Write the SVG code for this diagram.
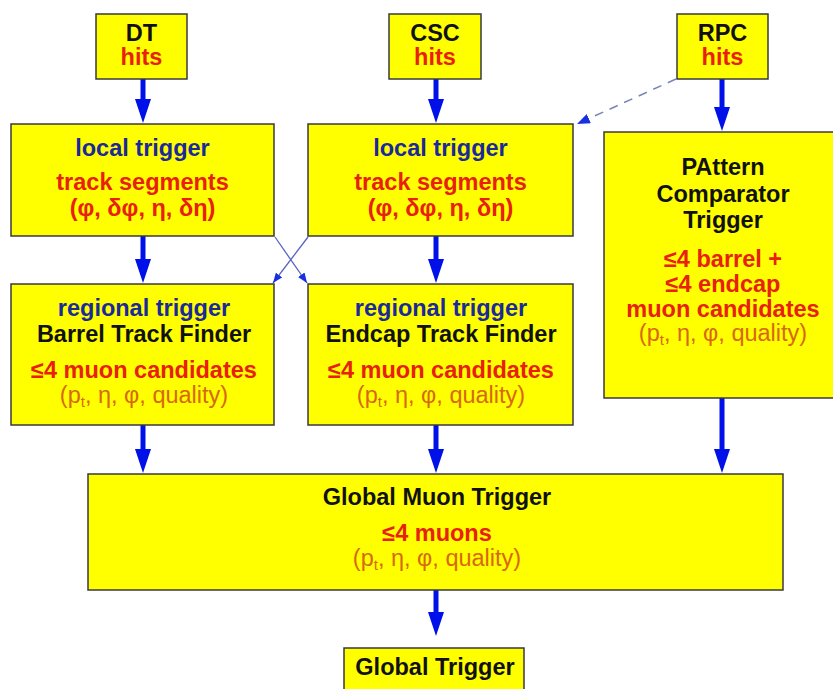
<svg xmlns="http://www.w3.org/2000/svg" width="833" height="689" viewBox="0 0 833 689">
<style>
.box{fill:#ffff00;stroke:#3a3a3a;stroke-width:1.5}
text{font-family:"Liberation Sans",Arial,sans-serif;font-size:23.5px;text-anchor:middle}
.b{font-weight:bold}
.k{fill:#111111}
.r{fill:#e8200c}
.bl{fill:#1a2a9a}
.o{fill:#d8680f;font-weight:normal}
.big{stroke:#0010e8;stroke-width:5;fill:none}
.thin{stroke:#5565c0;stroke-width:1.3;fill:none}
.dash{stroke:#7a86b8;stroke-width:1.6;fill:none;stroke-dasharray:9 7}
</style>
<defs>
<marker id="ah" viewBox="0 0 24 16" refX="1" refY="8" markerWidth="24" markerHeight="16" markerUnits="userSpaceOnUse" orient="auto">
<path d="M0,0 L24,8 L0,16 z" fill="#0010e8"/>
</marker>
<marker id="sh" viewBox="0 0 10 8" refX="10" refY="4" markerWidth="10" markerHeight="8" markerUnits="userSpaceOnUse" orient="auto">
<path d="M0,0 L10,4 L0,8 z" fill="#1a30e0"/>
</marker>
<marker id="dh" viewBox="0 0 13 10" refX="13" refY="5" markerWidth="13" markerHeight="10" markerUnits="userSpaceOnUse" orient="auto">
<path d="M0,0 L13,5 L0,10 z" fill="#1a30e0"/>
</marker>
</defs>

<g id="connectors">
<line class="big" x1="143" y1="79" x2="143" y2="100" marker-end="url(#ah)"/>
<line class="big" x1="436" y1="79" x2="436" y2="100" marker-end="url(#ah)"/>
<line class="big" x1="722" y1="79" x2="722" y2="108" marker-end="url(#ah)"/>
<line class="big" x1="143" y1="236" x2="143" y2="260" marker-end="url(#ah)"/>
<line class="big" x1="436" y1="236" x2="436" y2="260" marker-end="url(#ah)"/>
<line class="big" x1="143" y1="425" x2="143" y2="450" marker-end="url(#ah)"/>
<line class="big" x1="436" y1="425" x2="436" y2="450" marker-end="url(#ah)"/>
<line class="big" x1="722" y1="398" x2="722" y2="450" marker-end="url(#ah)"/>
<line class="big" x1="436" y1="590" x2="436" y2="613" marker-end="url(#ah)"/>
<line class="thin" x1="275" y1="237" x2="307" y2="283" marker-end="url(#sh)"/>
<line class="thin" x1="308" y1="237" x2="273" y2="283" marker-end="url(#sh)"/>
<line class="dash" x1="676" y1="79" x2="577" y2="124" marker-end="url(#dh)"/>
</g>

<g id="dt-hits">
<rect class="box" x="96" y="14" width="91" height="65"/>
<text class="b k" x="141.5" y="41">DT</text>
<text class="b r" x="141.5" y="65">hits</text>
</g>
<g id="csc-hits">
<rect class="box" x="389" y="14" width="92" height="65"/>
<text class="b k" x="435" y="41">CSC</text>
<text class="b r" x="435" y="65">hits</text>
</g>
<g id="rpc-hits">
<rect class="box" x="677" y="14" width="91" height="65"/>
<text class="b k" x="722.5" y="41">RPC</text>
<text class="b r" x="722.5" y="65">hits</text>
</g>

<g id="dt-local">
<rect class="box" x="11" y="124" width="263" height="112"/>
<text class="b bl" x="142.5" y="156">local trigger</text>
<text class="b r" x="142.5" y="190">track segments</text>
<text class="b r" x="142.5" y="216">(φ, δφ, η, δη)</text>
</g>
<g id="csc-local">
<rect class="box" x="308" y="124" width="265" height="112"/>
<text class="b bl" x="440.5" y="156">local trigger</text>
<text class="b r" x="440.5" y="190">track segments</text>
<text class="b r" x="440.5" y="216">(φ, δφ, η, δη)</text>
</g>

<g id="pact">
<rect class="box" x="604" y="132" width="240" height="266"/>
<text class="b k" x="723" y="175">PAttern</text>
<text class="b k" x="723" y="202">Comparator</text>
<text class="b k" x="723" y="228">Trigger</text>
<text class="b r" x="723" y="267">≤4 barrel +</text>
<text class="b r" x="723" y="292">≤4 endcap</text>
<text class="b r" x="723" y="317">muon candidates</text>
<text class="o" x="723" y="341">(p<tspan font-size="15" dy="4">t</tspan><tspan dy="-4">, η, φ, quality)</tspan></text>
</g>

<g id="barrel-tf">
<rect class="box" x="11" y="284" width="263" height="141"/>
<text class="b bl" x="144" y="316">regional trigger</text>
<text class="b k" x="144" y="342">Barrel Track Finder</text>
<text class="b r" x="144" y="378">≤4 muon candidates</text>
<text class="o" x="144" y="403">(p<tspan font-size="15" dy="4">t</tspan><tspan dy="-4">, η, φ, quality)</tspan></text>
</g>
<g id="endcap-tf">
<rect class="box" x="308" y="284" width="265" height="141"/>
<text class="b bl" x="441" y="316">regional trigger</text>
<text class="b k" x="441" y="342">Endcap Track Finder</text>
<text class="b r" x="441" y="378">≤4 muon candidates</text>
<text class="o" x="441" y="403">(p<tspan font-size="15" dy="4">t</tspan><tspan dy="-4">, η, φ, quality)</tspan></text>
</g>

<g id="gmt">
<rect class="box" x="88" y="474" width="695" height="116"/>
<text class="b k" x="437" y="505">Global Muon Trigger</text>
<text class="b r" x="437" y="541">≤4 muons</text>
<text class="o" x="437" y="566">(p<tspan font-size="15" dy="4">t</tspan><tspan dy="-4">, η, φ, quality)</tspan></text>
</g>

<g id="global-trigger">
<rect class="box" x="344" y="648" width="180" height="60"/>
<text class="b k" x="435" y="675">Global Trigger</text>
</g>
</svg>
